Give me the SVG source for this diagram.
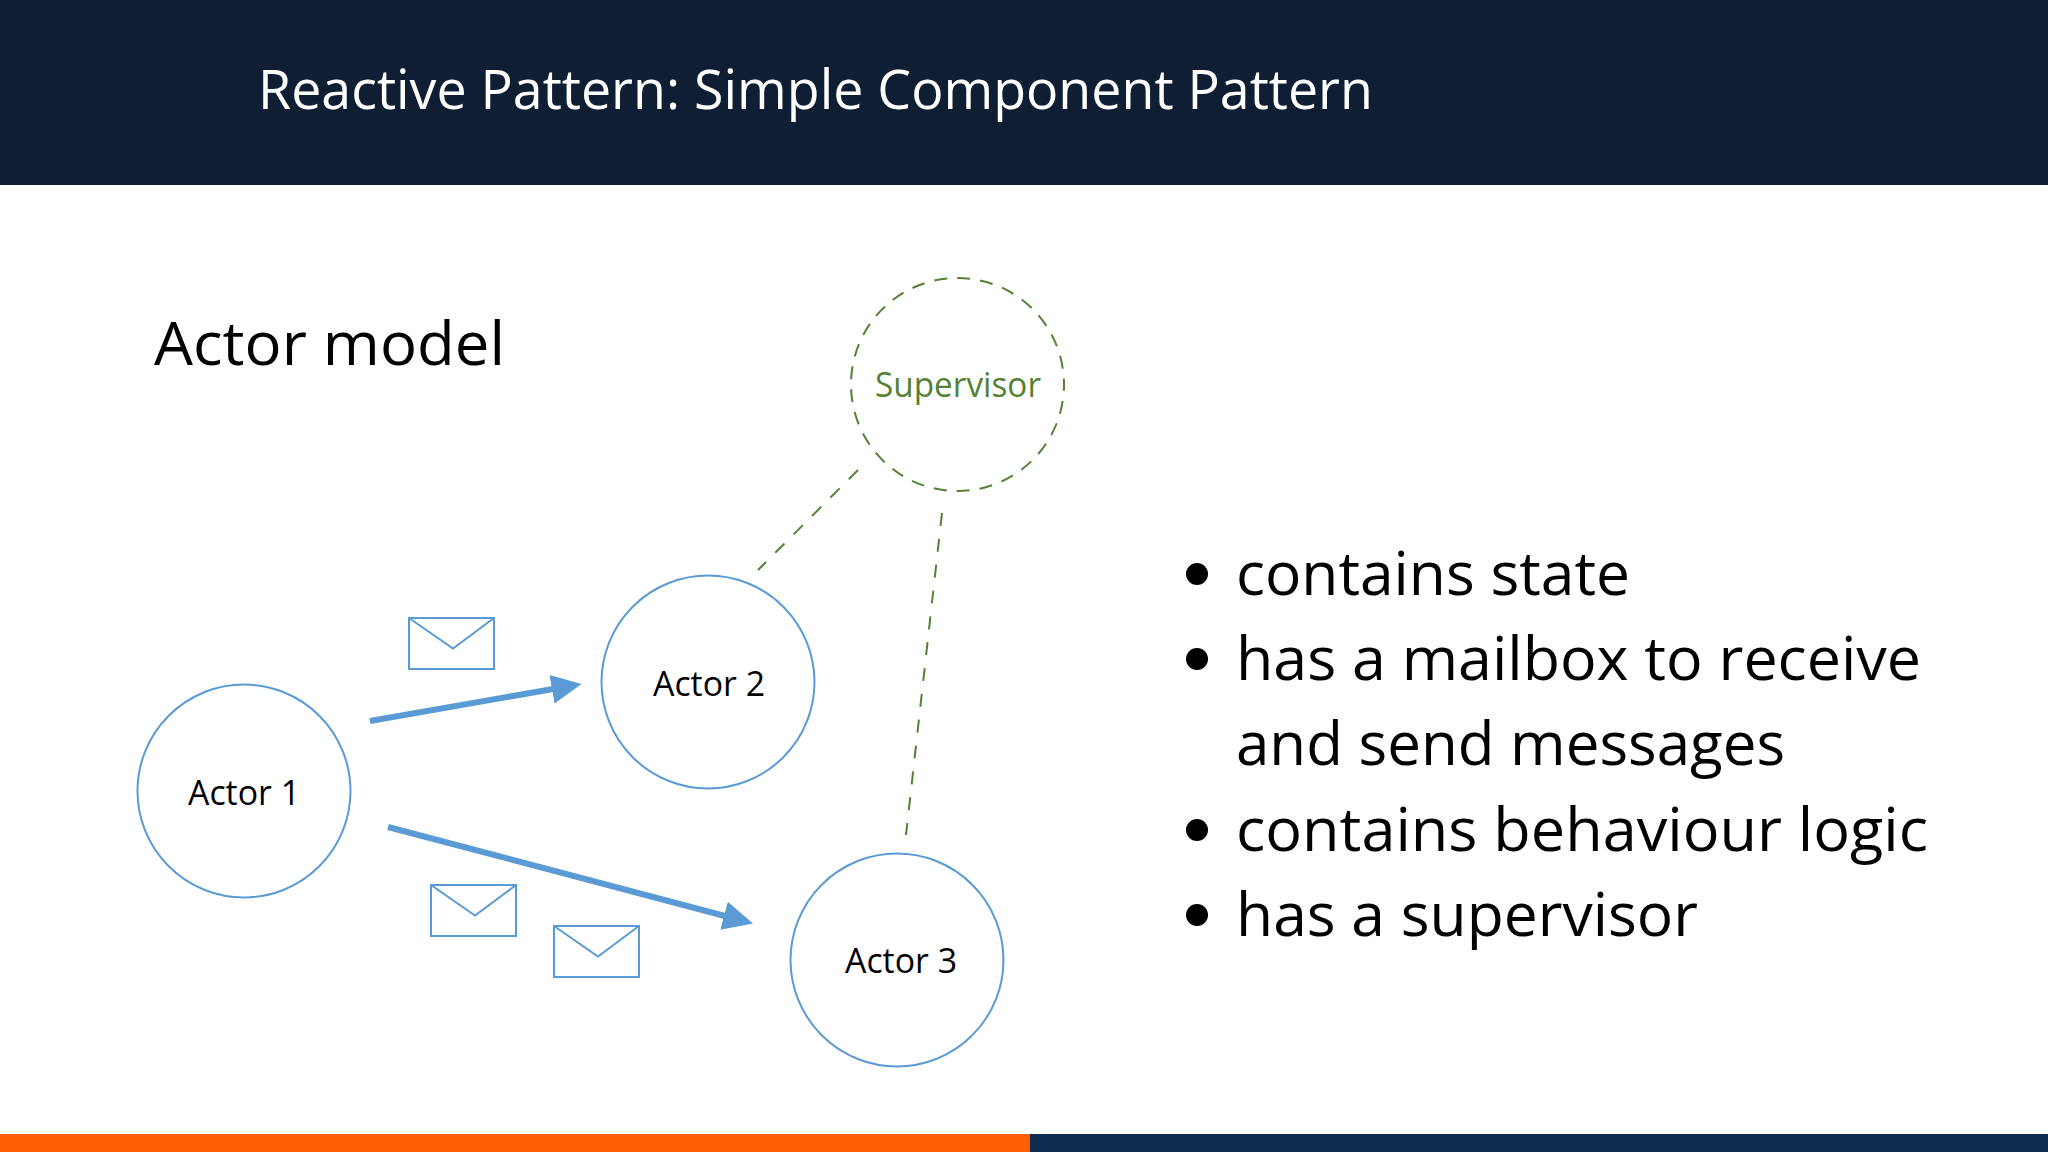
<svg xmlns="http://www.w3.org/2000/svg" width="2048" height="1152" viewBox="0 0 2048 1152">
<defs>
<marker id="ah" markerUnits="userSpaceOnUse" markerWidth="31" markerHeight="30" refX="1" refY="15" orient="auto"><path d="M0 0.500L30 15L0 29.500Z" fill="#5b9bd5"/></marker>
<g id="env"><rect x="0" y="0" width="85" height="51" fill="#fff" stroke="#5b9bd5" stroke-width="2"/><path d="M0 0L44 30.500L85 0" fill="none" stroke="#5b9bd5" stroke-width="2"/></g>
</defs>
<style>
.c{fill:#fff;stroke:#5b9bd5;stroke-width:2}
.l{font-family:"Open Sans","Noto Sans",sans-serif;font-size:34px;fill:#000}
.d{fill:none;stroke:#548235;stroke-width:2;stroke-dasharray:13 13}
.ring{stroke-dasharray:13 10.070;stroke-dashoffset:6.500}
.a{stroke:#5b9bd5;stroke-width:6;fill:none;marker-end:url(#ah)}
.b{font-family:"Open Sans","Noto Sans",sans-serif;font-size:60px;fill:#000}
</style>
<rect width="2048" height="1152" fill="#fff"/>
<rect width="2048" height="185" fill="#0f1e33"/>
<rect y="1134" width="1030" height="18" fill="#ff5f05"/>
<rect x="1030" y="1134" width="1018" height="18" fill="#0f2b4f"/>
<text x="258" y="109" font-family="'Open Sans','Noto Sans',sans-serif" font-size="54" fill="#fff" textLength="1115" lengthAdjust="spacingAndGlyphs">Reactive Pattern: Simple Component Pattern</text>
<text x="154" y="365" font-family="'Open Sans','Noto Sans',sans-serif" font-size="61" fill="#000" textLength="351" lengthAdjust="spacingAndGlyphs">Actor model</text>
<g id="connectors">
<path class="d" d="M858 470L758 570"/>
<path class="d" d="M942 513L906 835"/>
<path class="a" d="M370 721L553 689"/>
<path class="a" d="M388 827L725 916"/>
</g>
<g id="supervisor"><circle class="d ring" cx="957.500" cy="384.500" r="106.500"/><text x="958" y="397" text-anchor="middle" font-family="'Open Sans','Noto Sans',sans-serif" font-size="34" fill="#548235" textLength="166" lengthAdjust="spacingAndGlyphs">Supervisor</text></g>
<g id="actor1"><circle class="c" cx="244" cy="791" r="106.500"/><text class="l" x="188" y="805" textLength="112" lengthAdjust="spacingAndGlyphs">Actor 1</text></g>
<g id="actor2"><circle class="c" cx="708" cy="682" r="106.500"/><text class="l" x="653" y="696" textLength="112" lengthAdjust="spacingAndGlyphs">Actor 2</text></g>
<g id="actor3"><circle class="c" cx="897" cy="960" r="106.500"/><text class="l" x="845" y="973" textLength="112" lengthAdjust="spacingAndGlyphs">Actor 3</text></g>
<g id="msg1"><use href="#env" x="409" y="618"/></g>
<g id="msg2"><use href="#env" x="431" y="885"/></g>
<g id="msg3"><use href="#env" x="554" y="926"/></g>
<g id="bullets">
<circle cx="1197" cy="574" r="11"/><text class="b" x="1236" y="595" textLength="394" lengthAdjust="spacingAndGlyphs">contains state</text>
<circle cx="1197" cy="659" r="11"/><text class="b" x="1236" y="680" textLength="685" lengthAdjust="spacingAndGlyphs">has a mailbox to receive</text>
<text class="b" x="1236" y="765" textLength="549" lengthAdjust="spacingAndGlyphs">and send messages</text>
<circle cx="1197" cy="830" r="11"/><text class="b" x="1236" y="851" textLength="692" lengthAdjust="spacingAndGlyphs">contains behaviour logic</text>
<circle cx="1197" cy="915" r="11"/><text class="b" x="1236" y="936" textLength="462" lengthAdjust="spacingAndGlyphs">has a supervisor</text>
</g>
</svg>
